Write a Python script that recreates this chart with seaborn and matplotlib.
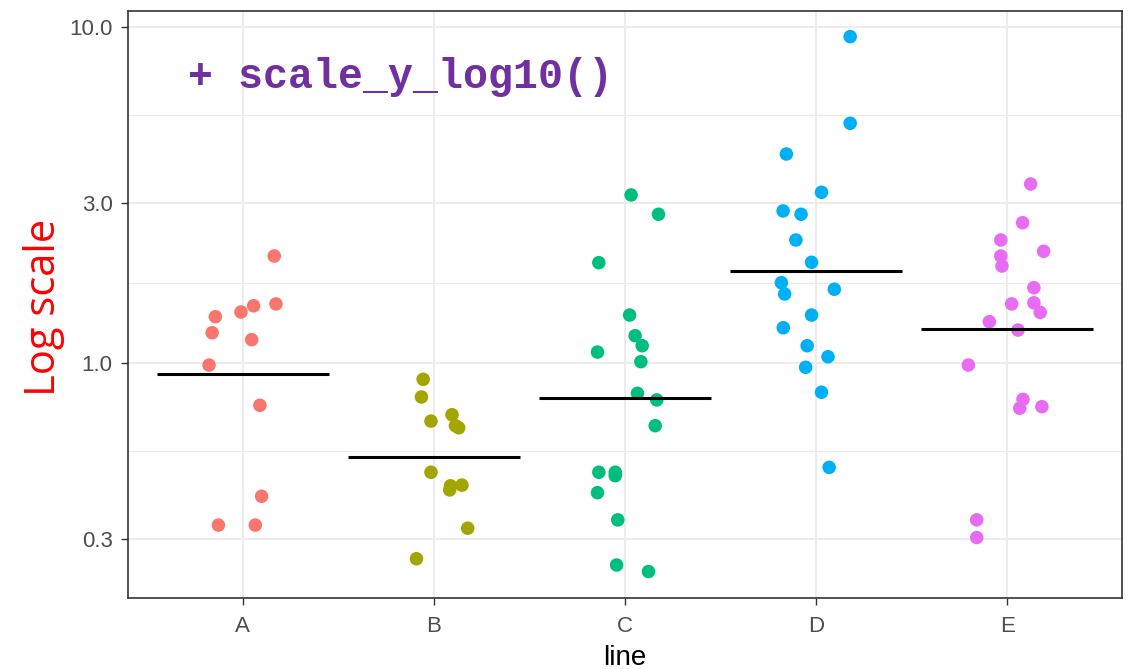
import numpy as np
import pandas as pd
import matplotlib
matplotlib.use("Agg")
import matplotlib.pyplot as plt
from matplotlib.ticker import FixedLocator, NullFormatter
import seaborn as sns

# Groups and their colours (ggplot hue palette)
lines = ["A", "B", "C", "D", "E"]
palette = ["#F8766D", "#A3A500", "#00BF7D", "#00B0F6", "#E76BF3"]

# Measured values per group
values_a = [2.086, 1.502, 1.483, 1.421, 1.376, 1.233, 1.176, 0.988, 0.750, 0.402, 0.330, 0.330]
values_b = [0.896, 0.794, 0.673, 0.703, 0.652, 0.643, 0.474, 0.432, 0.434, 0.420, 0.323, 0.262]
values_c = [3.170, 2.777, 1.993, 1.392, 1.208, 1.128, 1.080, 1.011, 0.814, 0.778, 0.652,
            0.474, 0.474, 0.463, 0.412, 0.342, 0.251, 0.240]
values_d = [9.380, 5.180, 4.197, 3.228, 2.841, 2.777, 2.328, 1.998, 1.738, 1.661, 1.608,
            1.392, 1.276, 1.128, 1.046, 0.973, 0.820, 0.490]
values_e = [3.417, 2.621, 2.328, 2.155, 2.086, 1.948, 1.679, 1.514, 1.502, 1.418, 1.330,
            1.256, 0.988, 0.781, 0.743, 0.735, 0.342, 0.303]

# Horizontal jitter of each point (category units)
jitter_a = [0.165, 0.174, 0.057, -0.009, -0.143, -0.160, 0.047, -0.176, 0.090, 0.099, -0.127, 0.066]
jitter_b = [-0.056, -0.065, -0.015, 0.095, 0.113, 0.130, -0.015, 0.087, 0.147, 0.083, 0.177, -0.091]
jitter_c = [0.032, 0.175, -0.137, 0.024, 0.053, 0.090, -0.144, 0.083, 0.065, 0.166, 0.158,
            -0.137, -0.051, -0.051, -0.144, -0.038, -0.044, 0.123]
jitter_d = [0.178, 0.178, -0.156, 0.028, -0.173, -0.079, -0.106, -0.024, -0.182, 0.095, -0.165,
            -0.024, -0.172, -0.047, 0.062, -0.055, 0.028, 0.068]
jitter_e = [0.122, 0.080, -0.034, 0.190, -0.034, -0.028, 0.139, 0.139, 0.023, 0.172, -0.094,
            0.056, -0.204, 0.082, 0.181, 0.065, -0.160, -0.160]

y_ticks = [0.3, 1.0, 3.0, 10.0]
y_tick_labels = ["0.3", "1.0", "3.0", "10.0"]

all_values = [values_a, values_b, values_c, values_d, values_e]
all_jitter = [jitter_a, jitter_b, jitter_c, jitter_d, jitter_e]

frames = []
for i, (name, vals, jit) in enumerate(zip(lines, all_values, all_jitter)):
    frames.append(pd.DataFrame({"line": name, "value": vals,
                                "xpos": i + np.asarray(jit)}))
df = pd.concat(frames, ignore_index=True)

# Mean on the log scale (geometric mean) for each group
means = df.groupby("line")["value"].apply(lambda v: 10 ** np.log10(v).mean()).reindex(lines)

sns.set_theme(style="white")
plt.rcParams["font.family"] = ["Liberation Sans", "DejaVu Sans"]

fig = plt.figure(figsize=(11.35, 6.69), dpi=100)
ax = fig.add_axes([128 / 1135, 1 - 597.5 / 669, 994 / 1135, 586.5 / 669])

sns.scatterplot(data=df, x="xpos", y="value", hue="line", palette=palette,
                hue_order=lines, s=95, linewidth=0, legend=False, ax=ax, zorder=3)

idx = np.arange(len(lines))
ax.hlines(means.values, idx - 0.45, idx + 0.45, color="black", lw=2.2, zorder=4)

ax.set_yscale("log")
ax.set_ylim(10 ** -0.697, 10 ** 1.0485)
ax.set_xlim(-0.6, len(lines) - 0.4)

ax.yaxis.set_major_locator(FixedLocator(y_ticks))
ax.set_yticklabels(y_tick_labels)
minor = [np.sqrt(a * b) for a, b in zip(y_ticks[:-1], y_ticks[1:])]
ax.yaxis.set_minor_locator(FixedLocator(minor))
ax.yaxis.set_minor_formatter(NullFormatter())
ax.set_xticks(idx)
ax.set_xticklabels(lines)

ax.grid(True, which="major", color="#EBEBEB", lw=1.3, zorder=0)
ax.grid(True, which="minor", axis="y", color="#EBEBEB", lw=0.8, zorder=0)
ax.set_axisbelow(True)

for sp in ax.spines.values():
    sp.set_color("#333333")
    sp.set_linewidth(1.2)

ax.tick_params(which="major", length=5, width=1.0, color="#333333",
               labelsize=16, labelcolor="#4D4D4D", left=True, bottom=True)
ax.tick_params(axis="y", which="major", pad=6)
ax.tick_params(axis="x", which="major", pad=8)
ax.tick_params(which="minor", length=0)

ax.set_xlabel("line", fontsize=20, color="black", labelpad=6)
ax.set_ylabel("")

fig.text(44 / 1135, 1 - 307 / 669, "Log scale", rotation=90, ha="center", va="center",
         color="red", fontsize=30, family=["Open Sans", "DejaVu Sans"])

ax.text(0.0604, 0.868, "+ scale_y_log10()", transform=ax.transAxes,
        ha="left", va="baseline", color="#7030A0", fontsize=30,
        family=["Liberation Mono", "DejaVu Sans Mono"], fontweight="bold")

fig.savefig("out.png", dpi=100)
